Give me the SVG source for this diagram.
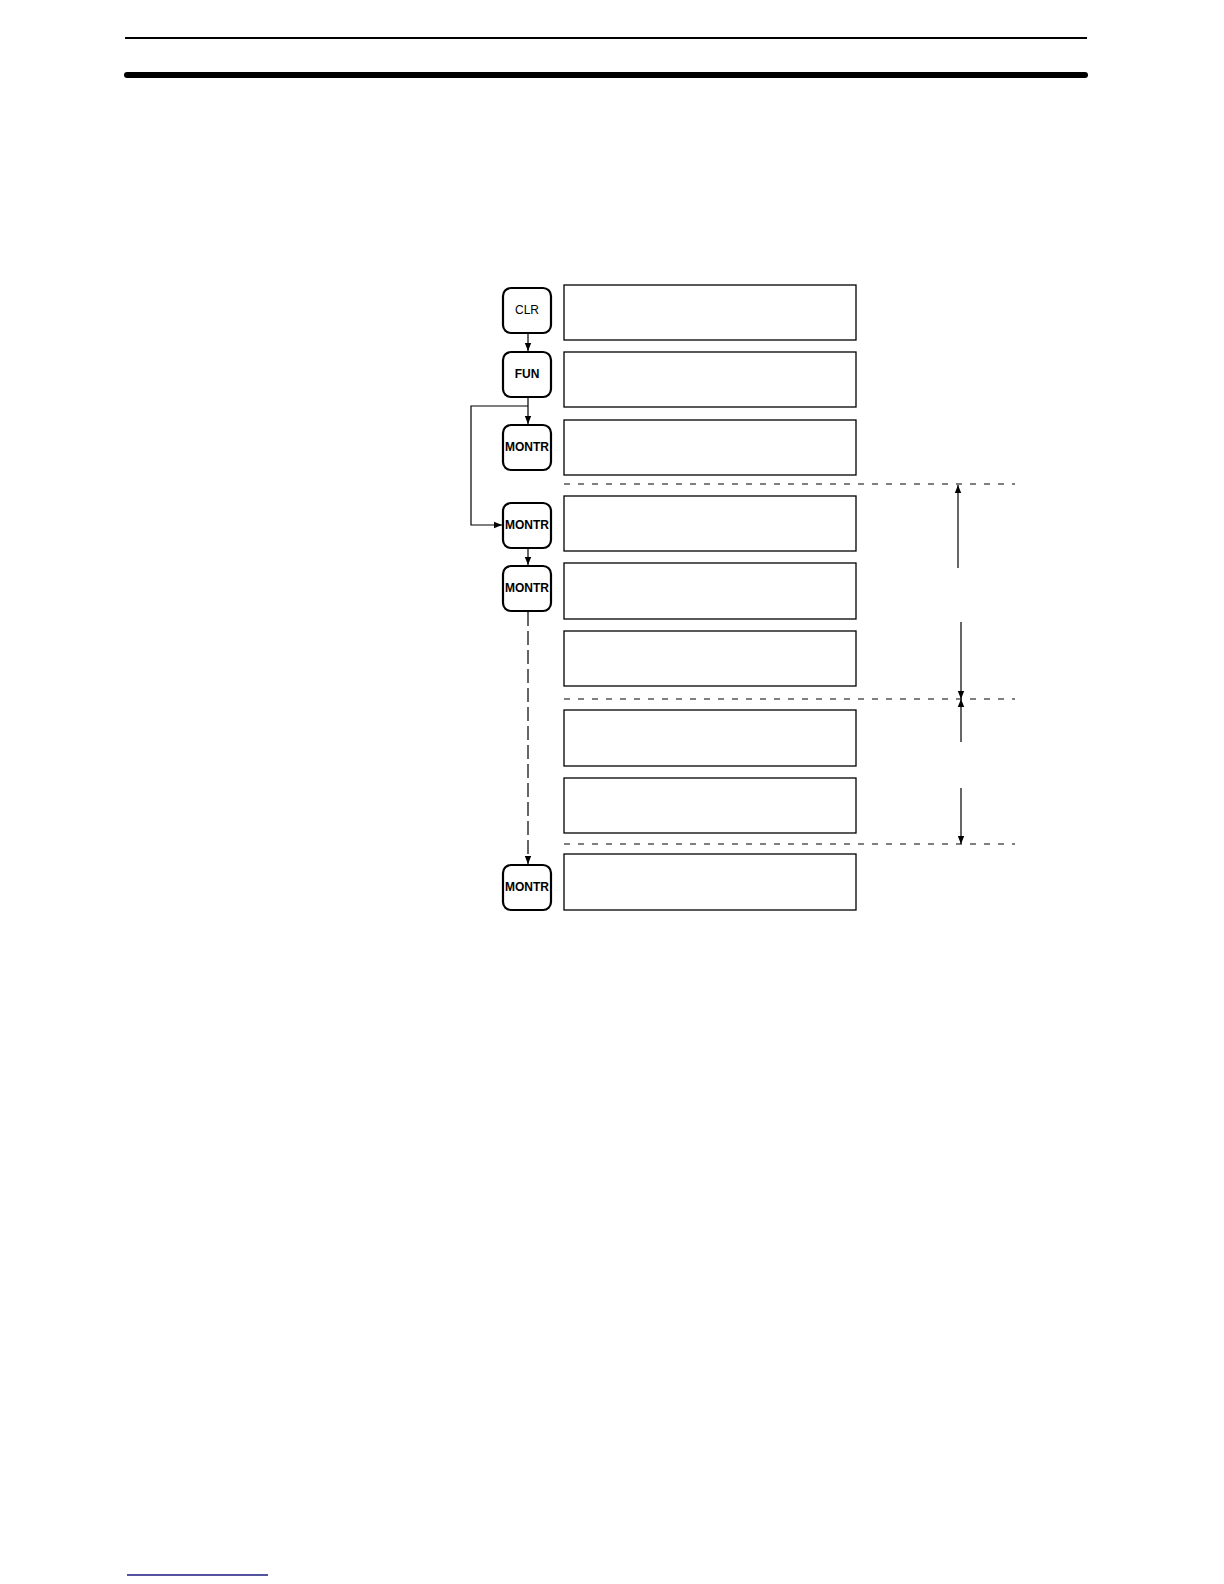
<svg xmlns="http://www.w3.org/2000/svg" width="1224" height="1584" viewBox="0 0 1224 1584">
<style>
.disp{fill:#fff;stroke:#000;stroke-width:1.3}
.key{fill:#fff;stroke:#000;stroke-width:2.2}
.kt{font-family:"Liberation Sans",Arial,sans-serif;font-size:12px;text-anchor:middle;fill:#000}
.kb{font-weight:bold}
.con{fill:none;stroke:#000;stroke-width:1.2}
.dash{fill:none;stroke:#000;stroke-width:1.2;stroke-dasharray:6,8}
.ldash{fill:none;stroke:#000;stroke-width:1.2;stroke-dasharray:14,5}
</style>
<defs>
<marker id="ah" viewBox="0 0 10 10" refX="10" refY="5" markerWidth="8" markerHeight="8" markerUnits="userSpaceOnUse" orient="auto">
<path d="M0,1 L10,5 L0,9 Z" fill="#000"/>
</marker>
</defs>
<rect width="1224" height="1584" fill="#fff"/>
<g id="header">
<line x1="125" y1="38" x2="1087" y2="38" stroke="#000" stroke-width="2"/>
<line x1="127" y1="75" x2="1085" y2="75" stroke="#000" stroke-width="6" stroke-linecap="round"/>
<line x1="127" y1="1575" x2="268" y2="1575" stroke="#1a1a80" stroke-width="1.5"/>
</g>
<g id="displays">
<rect id="d1" class="disp" x="564" y="285" width="292" height="55"/>
<rect id="d2" class="disp" x="564" y="352" width="292" height="55"/>
<rect id="d3" class="disp" x="564" y="420" width="292" height="55"/>
<rect id="d4" class="disp" x="564" y="496" width="292" height="55"/>
<rect id="d5" class="disp" x="564" y="563" width="292" height="56"/>
<rect id="d6" class="disp" x="564" y="631" width="292" height="55"/>
<rect id="d7" class="disp" x="564" y="710" width="292" height="56"/>
<rect id="d8" class="disp" x="564" y="778" width="292" height="55"/>
<rect id="d9" class="disp" x="564" y="854" width="292" height="56"/>
</g>
<g id="key-clr"><rect class="key" x="503" y="288" width="48" height="45" rx="8"/><text class="kt" x="527" y="314">CLR</text></g>
<g id="key-fun"><rect class="key" x="503" y="352" width="48" height="45" rx="8"/><text class="kt kb" x="527" y="378">FUN</text></g>
<g id="key-montr1"><rect class="key" x="503" y="425" width="48" height="45" rx="8"/><text class="kt kb" x="527" y="451">MONTR</text></g>
<g id="key-montr2"><rect class="key" x="503" y="503" width="48" height="45" rx="8"/><text class="kt kb" x="527" y="529">MONTR</text></g>
<g id="key-montr3"><rect class="key" x="503" y="566" width="48" height="45" rx="8"/><text class="kt kb" x="527" y="592">MONTR</text></g>
<g id="key-montr4"><rect class="key" x="503" y="865" width="48" height="45" rx="8"/><text class="kt kb" x="527" y="891">MONTR</text></g>
<g id="connectors">
<line class="con" x1="528" y1="334" x2="528" y2="351" marker-end="url(#ah)"/>
<line class="con" x1="528" y1="398" x2="528" y2="424" marker-end="url(#ah)"/>
<polyline class="con" points="528,406 471,406 471,525 502,525" marker-end="url(#ah)"/>
<line class="con" x1="528" y1="549" x2="528" y2="565" marker-end="url(#ah)"/>
<line class="ldash" x1="528" y1="612" x2="528" y2="864" marker-end="url(#ah)"/>
<line class="dash" x1="564" y1="484" x2="1015" y2="484"/>
<line class="dash" x1="564" y1="699" x2="1015" y2="699"/>
<line class="dash" x1="564" y1="844" x2="1015" y2="844"/>
<line class="con" x1="958" y1="568" x2="958" y2="485" marker-end="url(#ah)"/>
<line class="con" x1="961" y1="622" x2="961" y2="699" marker-end="url(#ah)"/>
<line class="con" x1="961" y1="742" x2="961" y2="699" marker-end="url(#ah)"/>
<line class="con" x1="961" y1="788" x2="961" y2="844" marker-end="url(#ah)"/>
</g>
</svg>
